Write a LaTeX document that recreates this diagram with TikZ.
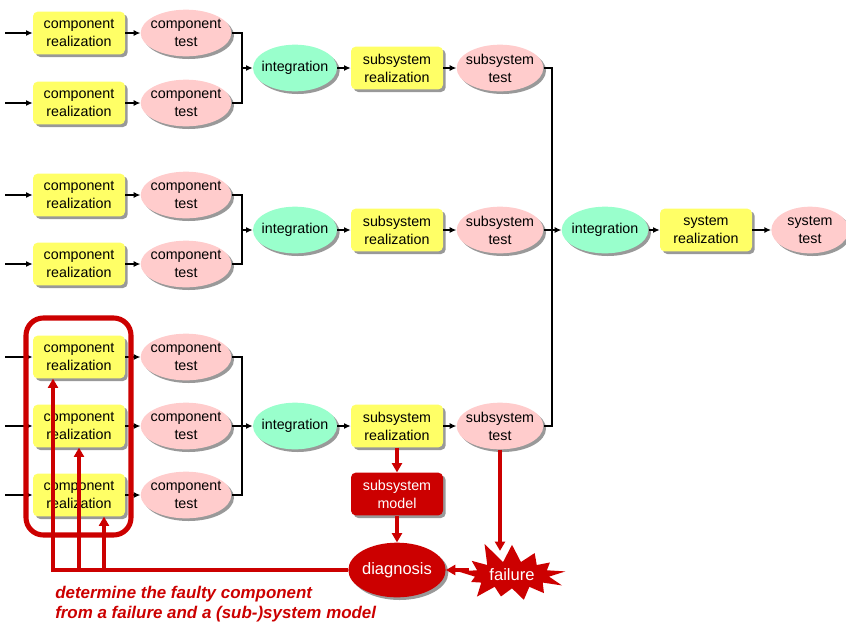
\documentclass[tikz,border=0pt]{standalone}
\usepackage{fontspec}
\setmainfont{Liberation Sans}
\usetikzlibrary{shapes.geometric,shapes.symbols,arrows.meta,shadows,calc}
\definecolor{boxyellow}{HTML}{FFFF66}
\definecolor{testpink}{HTML}{FFCCCC}
\definecolor{intgreen}{HTML}{99FFCC}
\definecolor{ered}{HTML}{CC0000}
\newcommand\nodefont{\fontsize{10.7}{13.4}\selectfont}
\newcommand\bigfont{\fontsize{12.4}{14}\selectfont}
\newcommand\notefont{\fontsize{12.7}{15}\selectfont\bfseries\itshape}
\begin{document}
\begin{tikzpicture}[x=0.75pt,y=-0.75pt,
  shadowed/.style={drop shadow={shadow xshift=2pt,shadow yshift=-2pt,fill=black!40,opacity=1}},
  realbox/.style={rectangle,rounded corners=3.5pt,fill=boxyellow,minimum width=69pt,
    minimum height=32pt,inner sep=0pt,align=center,font=\nodefont,shadowed},
  oval/.style={ellipse,inner sep=0pt,minimum height=35pt,shadowed,
    label={[align=center,font=\nodefont,inner sep=0pt]center:#1}},
  testoval/.style={oval={#1},fill=testpink,minimum width=68pt},
  intoval/.style={oval={#1},fill=intgreen,minimum width=63pt},
  modelbox/.style={realbox,fill=ered,text=white},
  diagoval/.style={ellipse,inner sep=0pt,fill=ered,minimum width=73pt,minimum height=41pt,shadowed,
    label={[font=\bigfont,text=white,inner sep=0pt]center:#1}},
  burst/.style={starburst,fill=ered,draw=none,starburst points=13,starburst point height=17pt,
    random starburst=11,minimum width=90pt,minimum height=54pt,inner sep=0pt,
    font=\bigfont,text=white},
  line/.style={draw=black,line width=1.2pt},
  flow/.style={line,-{Latex[length=5pt,width=4.5pt]}},
  redline/.style={draw=ered,line width=2.3pt},
  redflow/.style={redline,-{Triangle[length=7pt,width=7.5pt]}},
  redframe/.style={draw=ered,line width=3.8pt,rounded corners=13pt},
  note/.style={font=\notefont,text=ered,align=left,inner sep=0pt}]
\useasboundingbox (0,0) rectangle (846,626);

% component realization and component test, seven rows
\foreach \i/\y in {1/33,2/103,3/195,4/264,5/357,6/426,7/495}{
  \coordinate (in\i) at (5,\y);
  \node[realbox] (cr\i) at (79,\y) {component\\realization};
  \node[testoval={component\\test}] (ct\i) at (186,\y) {};
  \draw[flow] (in\i) -- (cr\i);
  \draw[flow] (cr\i) -- (ct\i);
}

% subsystem chains
\foreach \s/\y in {a/68,b/230,c/426}{
  \coordinate (j\s) at (242,\y);
  \node[intoval={integration}] (i\s) at (295,\y) {};
  \node[realbox] (sr\s) at (397,\y) {subsystem\\realization};
  \node[testoval={subsystem\\test},minimum width=65pt] (st\s) at (500,\y) {};
  \draw[flow] (j\s) -- (i\s);
  \draw[flow] (i\s) -- (sr\s);
  \draw[flow] (sr\s) -- (st\s);
}
\draw[line] (ct1.east) -| (ja) |- (ct2.east);
\draw[line] (ct3.east) -| (jb) |- (ct4.east);
\draw[line] (ct5.east) -| (jc) |- (ct7.east);
\draw[line] (ct6.east) -- (jc);

% system chain
\coordinate (js) at (552,230);
\node[intoval={integration},minimum width=65pt] (is) at (605,230) {};
\node[realbox] (sy) at (706,230) {system\\realization};
\node[testoval={system\\test},minimum width=58pt] (syt) at (810,230) {};
\draw[line] (sta.east) -| (js) |- (stc.east);
\draw[flow] (stb.east) -- (is);
\draw[flow] (is) -- (sy);
\draw[flow] (sy) -- (syt);

% diagnosis
\draw[redframe] (26,318) rectangle (131,535);
\node[modelbox] (sm) at (397,494) {subsystem\\model};
\node[diagoval={diagnosis}] (dg) at (397,570) {};
\node[burst] (fl) at (512,575) {failure};
\draw[redflow] (src.south) -- (sm.north);
\draw[redflow] (sm.south) -- (dg.north);
\draw[redflow] (stc.south) -- ([yshift=-5pt]stc.south |- fl.north);
\draw[redflow] (fl.west |- dg) -- (dg.east);
\draw[redflow] (dg.west) -| ([xshift=-19.5pt]cr5.south);
\draw[redflow] (dg.west) -| (cr6.south);
\draw[redflow] (dg.west) -| ([xshift=18.75pt]cr7.south);
\node[note,anchor=north west] (nt) at (55,586)
  {determine the faulty component\\from a failure and a (sub-)system model};
\end{tikzpicture}
\end{document}
